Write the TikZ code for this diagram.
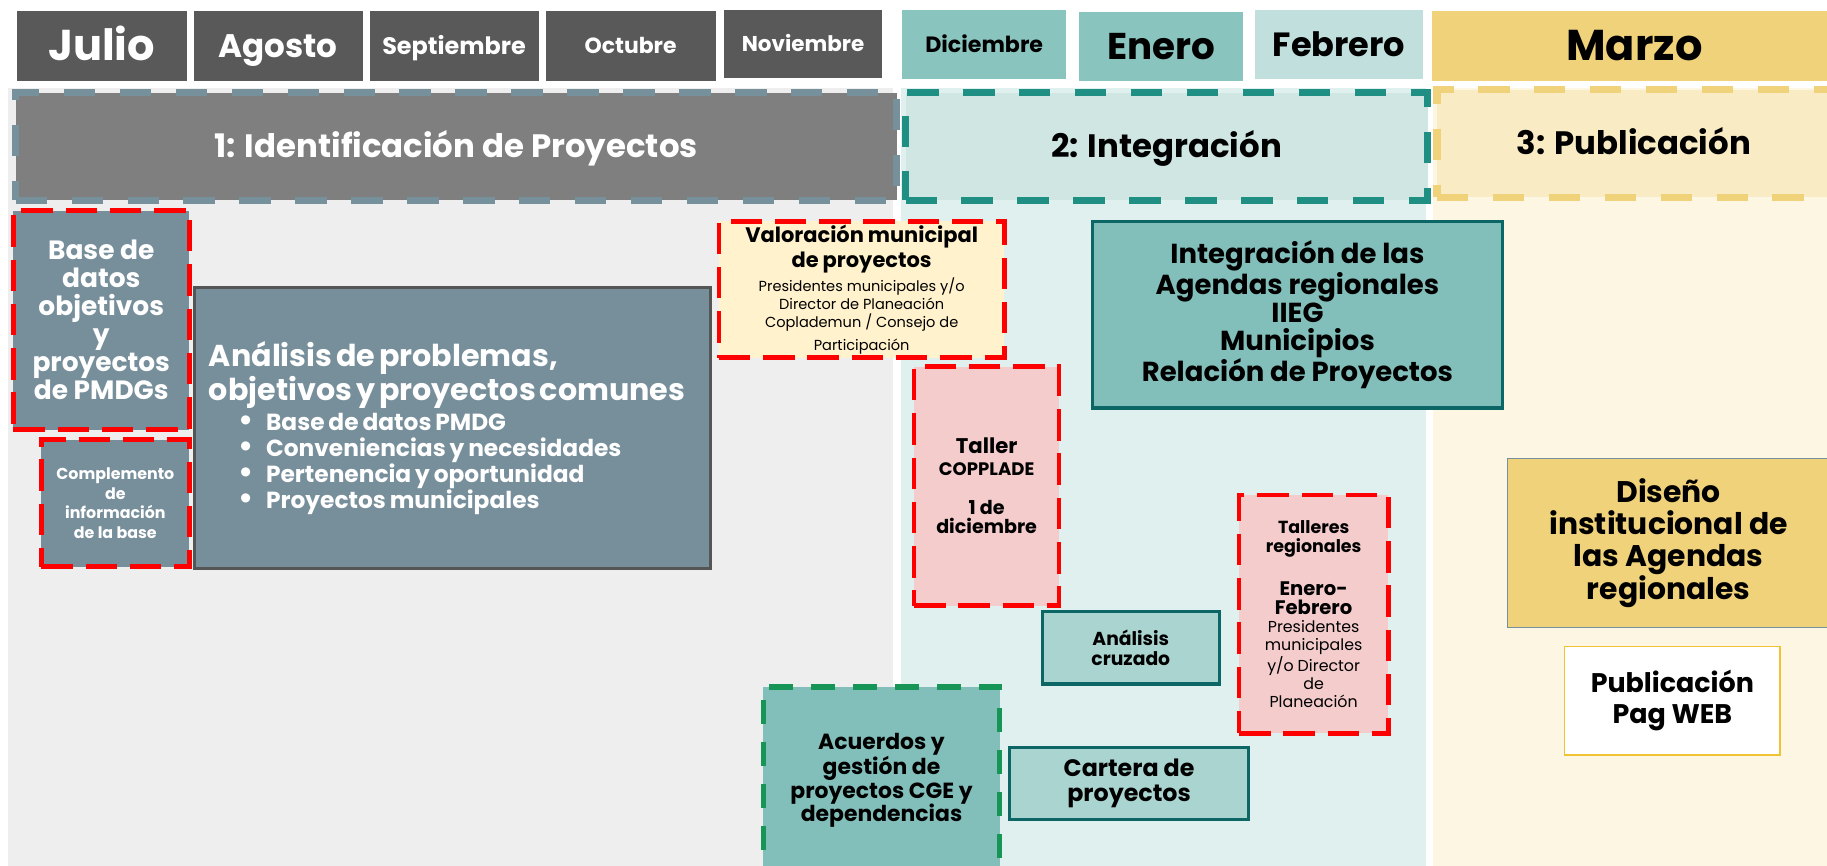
\documentclass[tikz,border=0pt]{standalone}
\usepackage{fontspec}
\setmainfont{Poppins}
\definecolor{mdark}{HTML}{595959}
\definecolor{mteal}{HTML}{8AC4BE}
\definecolor{mteallt}{HTML}{C0DFDD}
\definecolor{myellow}{HTML}{F0D27B}
\definecolor{bggray}{HTML}{EEEEEE}
\definecolor{bgteal}{HTML}{E0F0EE}
\definecolor{bgcream}{HTML}{FDF6E3}
\definecolor{ponefill}{HTML}{7F7F7F}
\definecolor{slate}{HTML}{76909C}
\definecolor{ptwofill}{HTML}{CFE6E3}
\definecolor{ptwoline}{HTML}{1E8F82}
\definecolor{pthreefill}{HTML}{F9ECC4}
\definecolor{boxslate}{HTML}{778F9B}
\definecolor{redd}{HTML}{FF0000}
\definecolor{creamy}{HTML}{FFF2CC}
\definecolor{pinky}{HTML}{F4CCCC}
\definecolor{tealmid}{HTML}{82BFBB}
\definecolor{tealdark}{HTML}{0D6666}
\definecolor{teallt}{HTML}{A9D4CF}
\definecolor{greendash}{HTML}{179556}
\definecolor{goldy}{HTML}{F1C232}
\definecolor{bordergray}{HTML}{555555}
\newcommand\fsz[2]{\fontsize{#1}{#2}\selectfont}
\newcommand\bulitem[1]{\hspace*{25pt}\makebox[24pt][l]{\fsz{26}{22}•}\mbox{#1}}
\tikzset{
  month/.style={anchor=north west, inner sep=0pt, text=white, fill=mdark, text depth=0pt},
  reddash/.style={draw=redd, line width=4pt, dash pattern=on 27pt off 11pt},
  phasedash/.style={line width=6.3pt, dash pattern=on 27pt off 21pt, text depth=0pt, text height=19.5pt, font=\bfseries\fsz{27.8}{30}},
  blk/.style={anchor=north west, inner sep=2pt, align=center},
  bg/.style={anchor=north west, inner sep=0pt},
}
\begin{document}
\begin{tikzpicture}[x=1pt,y=-1pt]
\clip (0,0) rectangle (1568,743);
\fill[white] (0,0) rectangle (1568,743);
% backgrounds
\node[bg, fill=bggray, minimum width=760pt, minimum height=680pt] (bga) at (6.5,75) {};
\node[bg, fill=bgteal, minimum width=451pt, minimum height=680pt] (bgb) at (773,75) {};
\node[bg, fill=bgcream, minimum width=345pt, minimum height=680pt] (bgc) at (1230,75) {};
% months
\node[month, minimum width=146pt, minimum height=60pt, text height=25.9pt, font=\bfseries\fsz{37}{40}] (jul) at (14,9) {Julio};
\node[month, minimum width=145pt, minimum height=60pt, text height=19.6pt, font=\bfseries\fsz{28}{30}] (ago) at (166,9) {Agosto};
\node[month, minimum width=145pt, minimum height=60pt, text height=14.3pt, font=\bfseries\fsz{20.5}{22}] (sep) at (317,9) {Septiembre};
\node[month, minimum width=146pt, minimum height=60pt, text height=13.2pt, font=\bfseries\fsz{18.8}{20}] (oct) at (468,9) {Octubre};
\node[month, minimum width=136pt, minimum height=59pt, text height=12.9pt, font=\bfseries\fsz{18.4}{20}] (nov) at (621,8) {Noviembre};
\node[month, fill=mteal, text=black, minimum width=141pt, minimum height=60pt, text height=13.3pt, font=\bfseries\fsz{19}{20}] (dic) at (774,8) {Diciembre};
\node[month, fill=mteal, text=black, minimum width=141pt, minimum height=59pt, text height=22.4pt, font=\bfseries\fsz{32}{34}] (ene) at (926,10) {Enero};
\node[month, fill=mteallt, text=black, minimum width=144pt, minimum height=60pt, text height=20.2pt, font=\bfseries\fsz{28.8}{30}] (feb) at (1077,8) {Febrero};
\node[month, fill=myellow, text=black, minimum width=347pt, minimum height=60pt, text height=25.9pt, font=\bfseries\fsz{37}{40}] (mar) at (1229,9) {Marzo};
% phases
\node[bg, phasedash, fill=ponefill, draw=slate, text=white,
      minimum width=756pt, minimum height=92.4pt] (pa) at (10.3,76.4) {1: Identificación de Proyectos};
\node[bg, phasedash, fill=ptwofill, draw=ptwoline,
      minimum width=448pt, minimum height=92.4pt] (pb) at (774,76.4) {2: Integración};
\node[bg, phasedash, fill=pthreefill, draw=myellow,
      minimum width=345pt, minimum height=92.4pt] (pc) at (1230,73.8) {\hspace*{-7pt}3: Publicación};
% phase 1 boxes
\node[blk, fill=boxslate, reddash, text=white, minimum width=151pt, minimum height=188pt,
      font=\bfseries\fsz{22.7}{24}] (base) at (9.4,178.8) {Base de\\datos\\objetivos\\y\\proyectos\\de PMDGs};
\node[blk, fill=boxslate, reddash, text=white, minimum width=127pt, minimum height=109pt,
      font=\bfseries\fsz{13.6}{17}] (comp) at (33.5,375.3) {Complemento\\de\\información\\de la base};
\node[blk, fill=boxslate, draw=bordergray, line width=2.9pt, text=white, align=left, inner xsep=12.5pt,
      text width=418pt, minimum height=241pt] (anal) at (165.4,245.5)
  {{\bfseries\fsz{25.9}{26}\mbox{Análisis de problemas,}\\\mbox{objetivos y proyectos comunes}\par}\vspace{3.5pt}
   {\bfseries\fsz{20}{22.4}%
   \bulitem{Base de datos PMDG}\\
   \bulitem{Conveniencias y necesidades}\\
   \bulitem{Pertenencia y oportunidad}\\
   \bulitem{Proyectos municipales}\par}};
\node[blk, fill=creamy, reddash, minimum width=245pt, minimum height=117pt, text width=240pt] (val) at (615,188)
  {{\bfseries\fsz{18}{21.5}Valoración municipal\\de proyectos\par}\vspace{3.3pt}
   {\fsz{12.5}{15.4}Presidentes municipales y/o\\Director de Planeación\\Coplademun / Consejo de\\[3.8pt]Participación\par}};
\node[blk, draw=greendash, line width=4.9pt, dash pattern=on 20.6pt off 15.4pt, fill=tealmid,
      minimum width=202.6pt, minimum height=160pt, font=\bfseries\fsz{18.8}{20.3}] (acu) at (652.8,587.3)
  {Acuerdos y\\gestión de\\proyectos CGE y\\dependencias};
% phase 2 boxes
\node[blk, fill=pinky, reddash, minimum width=124.5pt, minimum height=205pt, text width=120pt] (tal) at (782.5,312.7)
  {{\bfseries\fsz{18.2}{18.6}Taller\par}{\bfseries\fsz{15.5}{18.6}COPPLADE\par}\vspace{16pt}{\bfseries\fsz{16.4}{17}1 de\\diciembre\par}};
\node[blk, fill=tealmid, draw=tealdark, line width=3pt, minimum width=352pt, minimum height=160pt,
      font=\bfseries\fsz{23.6}{24}] (integ) at (936,188.8)
  {Integración de las\\Agendas regionales\\IIEG\\Municipios\\Relación de Proyectos};
\node[blk, fill=pinky, reddash, minimum width=127.3pt, minimum height=204.6pt, text width=124pt] (tre) at (1061.4,422.8)
  {{\bfseries\fsz{15}{15.7}Talleres\\regionales\par}\vspace{20.4pt}{\bfseries\fsz{16.8}{16.6}Enero-\\Febrero\par}
   {\fsz{13.6}{15.6}Presidentes\\municipales\\y/o Director\\de\\Planeación\par}\vspace{14pt}};
\node[blk, fill=teallt, draw=tealdark, line width=3pt, minimum width=152pt, minimum height=62pt,
      font=\bfseries\fsz{16.1}{17.5}] (cruz) at (893,523.5) {Análisis\\cruzado};
\node[blk, fill=teallt, draw=tealdark, line width=3pt, minimum width=205pt, minimum height=62pt,
      font=\bfseries\fsz{20.4}{21.5}] (cart) at (865,640) {Cartera de\\proyectos};
% phase 3 boxes
\node[blk, fill=myellow, draw=slate, line width=1.2pt, minimum width=277pt, minimum height=145pt,
      font=\bfseries\fsz{25.6}{27.5}] (dis) at (1293,393) {Diseño\\institucional de\\las Agendas\\regionales};
\node[blk, fill=white, draw=goldy, line width=1.5pt, minimum width=185pt, minimum height=93pt,
      font=\bfseries\fsz{23.1}{27}] (pub) at (1342,554) {Publicación\\Pag WEB};
\end{tikzpicture}
\end{document}
